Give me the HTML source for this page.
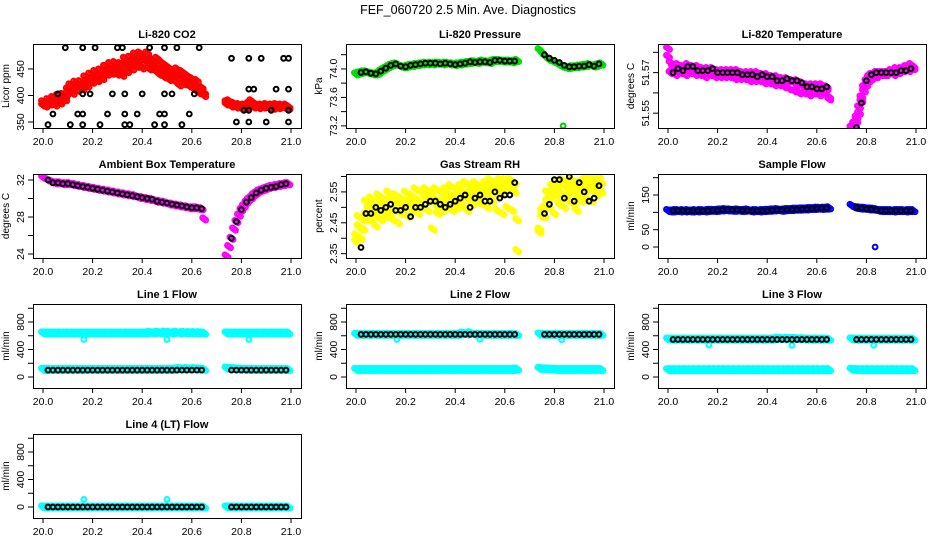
<!DOCTYPE html>
<html><head><meta charset="utf-8"><style>
html,body{margin:0;padding:0;background:#fff;}
svg{display:block;font-family:"Liberation Sans",sans-serif;}
</style></head><body>
<svg id="chart" width="936" height="540" viewBox="0 0 936 540">
<text x="468" y="14" text-anchor="middle" font-size="12.5">FEF_060720  2.5 Min. Ave. Diagnostics</text>
</svg>
<script>
// ---- time grids ----
const denseT = [20.00,20.01,20.02,20.03,20.04,20.05,20.06,20.07,20.08,20.09,20.10,20.11,20.12,20.13,20.14,20.15,20.16,20.17,20.18,20.19,20.20,20.21,20.22,20.23,20.24,20.25,20.26,20.27,20.28,20.29,20.30,20.31,20.32,20.33,20.34,20.35,20.36,20.37,20.38,20.39,20.40,20.41,20.42,20.43,20.44,20.45,20.46,20.47,20.48,20.49,20.50,20.51,20.52,20.53,20.54,20.55,20.56,20.57,20.58,20.59,20.60,20.61,20.62,20.63,20.64,20.65,
20.74,20.75,20.76,20.77,20.78,20.79,20.80,20.81,20.82,20.83,20.84,20.85,20.86,20.87,20.88,20.89,20.90,20.91,20.92,20.93,20.94,20.95,20.96,20.97,20.98,20.99];
const blackT = [20.02,20.04,20.06,20.08,20.10,20.12,20.14,20.16,20.18,20.20,20.22,20.24,20.26,20.28,20.30,20.32,20.34,20.36,20.38,20.40,20.42,20.44,20.46,20.48,20.50,20.52,20.54,20.56,20.58,20.60,20.62,20.64,
20.76,20.78,20.80,20.82,20.84,20.86,20.88,20.90,20.92,20.94,20.96,20.98];
const xTicks = [20.0,20.2,20.4,20.6,20.8,21.0];
const xTickLabels = ["20.0","20.2","20.4","20.6","20.8","21.0"];

// ---- CO2 ----
const co2Red = [382,385,386,388,390,388,392,390,392,398,405,410,412,418,420,415,420,425,428,430,432,435,430,440,438,445,448,450,442,452,455,450,445,460,455,462,458,465,460,470,462,468,465,470,460,455,460,450,445,448,440,445,438,440,435,442,445,430,432,428,425,425,420,415,410,405,
388,386,384,382,381,380,380,379,380,382,385,381,380,380,380,380,381,380,380,381,380,380,380,379,379,379];
const co2RedB = [388,380,392,384,396,382,400,386,402,392,412,420,404,425,410,426,412,435,418,440,425,445,428,448,432,455,440,460,448,462,440,460,438,470,445,472,450,478,455,480,452,475,480,450,468,448,470,440,462,435,455,430,448,428,450,420,440,422,438,418,432,412,428,405,415,400,
384,390,380,385,378,383,376,382,377,385,390,378,383,377,382,378,383,377,382,376,383,377,382,378,382,376];
const co2BlackT = [20.09,20.16,20.21,20.30,20.32,20.43,20.49,20.54,20.63,20.76,20.83,20.88,20.97,20.99,20.06,20.16,20.19,20.28,20.33,20.40,20.49,20.52,20.61,20.83,20.85,20.94,20.99,20.04,20.14,20.16,20.26,20.33,20.38,20.47,20.49,20.59,20.81,20.83,20.92,20.99,20.02,20.11,20.16,20.23,20.33,20.35,20.45,20.49,20.56,20.78,20.83,20.90,20.99];
const co2BlackY = [490,490,490,490,490,490,490,490,490,470,470,470,470,470,403,403,403,403,403,403,403,403,403,412,412,412,412,365,365,365,365,365,365,365,365,365,372,372,372,372,345,345,345,345,345,345,345,345,345,350,350,350,350];
const co2YTicks = [350,400,450];
const co2YLabels = ["350","400","450"];

// ---- Pressure ----
const presGreen = [73.93,73.94,73.95,73.96,73.96,73.95,73.94,73.93,73.93,73.94,73.97,73.99,74.01,74.03,74.05,74.06,74.07,74.06,74.04,74.03,74.03,74.04,74.05,74.05,74.06,74.06,74.07,74.07,74.08,74.07,74.08,74.07,74.08,74.08,74.08,74.07,74.08,74.08,74.07,74.07,74.06,74.07,74.07,74.08,74.08,74.09,74.09,74.10,74.10,74.09,74.10,74.11,74.10,74.10,74.09,74.11,74.12,74.12,74.12,74.11,74.11,74.11,74.11,74.10,74.11,74.12,
74.27,74.23,74.19,74.16,74.13,74.12,74.10,74.08,74.06,74.04,74.03,74.02,74.02,74.03,74.03,74.03,74.04,74.04,74.05,74.05,74.06,74.05,74.04,74.05,74.06,74.07];
const presOutT = [20.835];
const presOutY = [73.20];
const presBlack = [73.95,73.96,73.94,73.93,73.97,74.01,74.05,74.07,74.04,74.03,74.05,74.06,74.07,74.08,74.08,74.08,74.07,74.08,74.07,74.06,74.07,74.08,74.10,74.09,74.10,74.10,74.09,74.12,74.12,74.11,74.11,74.11,
74.20,74.15,74.12,74.09,74.05,74.03,74.03,74.04,74.04,74.06,74.04,74.07];
const presYTicks = [73.2,73.4,73.6,73.8,74.0,74.2];
const presYLabels = ["73.2","","73.6","","74.0",""];

// ---- Li-820 temperature ----
const ltMag = [51.578,51.575,51.571,51.571,51.572,51.572,51.571,51.572,51.572,51.572,51.572,51.571,51.571,51.571,51.570,51.571,51.571,51.570,51.570,51.571,51.570,51.570,51.570,51.570,51.570,51.570,51.570,51.569,51.570,51.569,51.569,51.569,51.569,51.569,51.568,51.569,51.569,51.568,51.569,51.568,51.568,51.568,51.568,51.567,51.567,51.566,51.567,51.566,51.566,51.566,51.566,51.565,51.564,51.565,51.564,51.563,51.562,51.563,51.563,51.562,51.562,51.562,51.561,51.562,51.562,51.557,
51.543,51.544,51.546,51.550,51.556,51.561,51.566,51.568,51.569,51.569,51.570,51.570,51.570,51.570,51.570,51.570,51.571,51.570,51.571,51.571,51.571,51.571,51.572,51.572,51.572,51.573];
const ltMagB = [51.582,51.570,51.573,51.569,51.574,51.570,51.573,51.569,51.574,51.570,51.573,51.569,51.573,51.569,51.572,51.568,51.572,51.569,51.572,51.568,51.571,51.568,51.571,51.568,51.571,51.568,51.571,51.567,51.571,51.567,51.570,51.567,51.570,51.566,51.570,51.566,51.570,51.566,51.569,51.565,51.569,51.565,51.568,51.564,51.568,51.564,51.567,51.563,51.567,51.562,51.566,51.561,51.566,51.560,51.565,51.560,51.564,51.559,51.564,51.560,51.564,51.559,51.564,51.560,51.563,51.558,
51.543,51.545,51.548,51.553,51.558,51.563,51.564,51.566,51.567,51.568,51.568,51.569,51.569,51.569,51.569,51.570,51.570,51.569,51.572,51.570,51.572,51.571,51.573,51.571,51.574,51.572];
const ltBlack = [51.570,51.572,51.571,51.573,51.573,51.571,51.571,51.571,51.572,51.570,51.570,51.570,51.570,51.570,51.569,51.569,51.569,51.568,51.569,51.568,51.568,51.566,51.566,51.567,51.566,51.566,51.565,51.563,51.563,51.562,51.562,51.563,
51.543,51.555,51.566,51.569,51.570,51.570,51.570,51.570,51.570,51.571,51.571,51.572];
const ltYTicks = [51.55,51.56,51.57,51.58];
const ltYLabels = ["51.55","","51.57",""];

// ---- Ambient box temperature ----
const btMag = [32.3,32.2,32.0,31.9,31.8,31.7,31.7,31.7,31.6,31.6,31.6,31.6,31.5,31.5,31.4,31.4,31.3,31.3,31.2,31.2,31.1,31.1,31.0,31.0,30.9,30.9,30.8,30.8,30.7,30.7,30.6,30.6,30.5,30.5,30.4,30.4,30.3,30.3,30.2,30.1,30.1,30.0,30.0,29.9,29.9,29.8,29.7,29.7,29.6,29.6,29.5,29.4,29.4,29.3,29.3,29.2,29.2,29.1,29.1,29.0,29.0,29.0,29.0,28.9,28.9,27.8,
23.8,24.8,25.7,26.7,27.5,28.2,28.8,29.2,29.6,29.9,30.1,30.4,30.6,30.8,30.9,31.0,31.1,31.2,31.3,31.3,31.4,31.4,31.5,31.5,31.6,31.6];
const btBlack = [32.0,31.7,31.7,31.6,31.6,31.5,31.4,31.3,31.2,31.1,31.0,30.9,30.8,30.7,30.6,30.5,30.4,30.3,30.2,30.1,30.0,29.9,29.7,29.6,29.5,29.4,29.3,29.2,29.1,29.0,29.0,28.9,
25.7,27.5,28.8,29.6,30.1,30.6,30.9,31.1,31.2,31.3,31.5,31.6];
const btYTicks = [24,26,28,30,32];
const btYLabels = ["24","","28","","32"];

// ---- Gas stream RH ----
const rhYel = [2.41,2.44,2.43,2.46,2.48,2.50,2.49,2.51,2.48,2.50,2.52,2.50,2.51,2.49,2.53,2.52,2.50,2.51,2.48,2.50,2.51,2.52,2.50,2.51,2.53,2.52,2.51,2.50,2.53,2.52,2.54,2.52,2.53,2.50,2.52,2.51,2.53,2.52,2.54,2.53,2.52,2.54,2.53,2.55,2.54,2.53,2.55,2.54,2.56,2.53,2.55,2.54,2.56,2.55,2.53,2.56,2.57,2.54,2.56,2.55,2.57,2.58,2.56,2.57,2.55,2.36,
2.43,2.47,2.50,2.52,2.53,2.55,2.54,2.56,2.55,2.53,2.57,2.54,2.56,2.55,2.57,2.54,2.56,2.58,2.55,2.57,2.56,2.58,2.55,2.57,2.56,2.58];
const rhYelB = [2.39,2.47,2.40,2.43,2.52,2.46,2.53,2.47,2.44,2.54,2.46,2.53,2.47,2.55,2.48,2.46,2.54,2.45,2.53,2.48,2.55,2.47,2.54,2.49,2.56,2.48,2.55,2.50,2.56,2.49,2.55,2.43,2.56,2.48,2.55,2.49,2.56,2.50,2.57,2.49,2.56,2.50,2.57,2.51,2.58,2.49,2.57,2.51,2.58,2.52,2.57,2.51,2.58,2.50,2.59,2.52,2.58,2.49,2.59,2.48,2.59,2.50,2.59,2.49,2.58,2.46,
2.42,2.49,2.47,2.55,2.50,2.57,2.48,2.58,2.51,2.59,2.50,2.58,2.52,2.59,2.51,2.49,2.58,2.52,2.59,2.53,2.60,2.52,2.59,2.54,2.60,2.55];
const rhBlack = [2.37,2.48,2.48,2.50,2.49,2.50,2.51,2.49,2.49,2.50,2.47,2.50,2.50,2.51,2.52,2.52,2.51,2.50,2.51,2.52,2.53,2.54,2.50,2.53,2.54,2.52,2.52,2.55,2.53,2.54,2.54,2.58,
2.48,2.51,2.59,2.59,2.53,2.60,2.52,2.58,2.55,2.52,2.53,2.57];
const rhYTicks = [2.35,2.40,2.45,2.50,2.55,2.60];
const rhYLabels = ["2.35","","2.45","","2.55",""];

// ---- Sample flow ----
const sfBlue = [105,104,104,105,105,104,105,104,105,104,104,105,104,105,105,104,105,106,106,105,106,107,107,108,107,107,106,106,107,106,105,106,107,105,104,105,105,104,105,105,106,106,107,107,108,107,106,107,108,108,108,109,109,109,110,110,110,111,111,111,112,112,111,112,112,113,
120,116,114,113,112,112,111,110,110,109,108,106,105,105,105,105,105,104,105,105,105,105,104,105,105,105];
const sfOutT = [20.835];
const sfOutY = [0];
const sfBlack = [105,105,105,104,105,105,104,105,106,106,107,108,107,107,106,105,105,105,105,105,106,107,107,107,108,108,109,110,111,111,112,112,
114,112,110,109,107,105,105,105,105,105,105,105];
const sfYTicks = [0,50,100,150,200];
const sfYLabels = ["0","50","","150",""];

// ---- Line flows ----
const flowYTicks = [0,200,400,600,800,1000];
const flowYLabels = ["0","","400","","800",""];
const l1Hi = [640,642,638,640,641,639,640,642,638,640,641,639,640,642,638,640,641,639,640,642,638,640,641,639,640,642,638,640,641,639,640,642,638,640,641,639,640,642,638,640,641,639,640,650,645,640,652,648,640,655,645,650,640,648,652,640,645,650,640,646,642,648,640,645,642,640,
640,642,638,640,641,639,640,642,638,640,641,639,640,642,638,640,641,639,640,642,638,640,641,639,640,642];
const l1Lo = [110,110,110,110,110,110,110,110,110,110,110,110,110,110,110,110,110,110,110,110,110,110,110,110,110,110,110,110,110,110,110,110,110,110,110,110,110,110,110,110,110,110,110,110,110,110,110,110,110,110,110,110,110,115,120,125,120,115,125,120,118,122,120,115,118,112,
130,128,125,122,120,118,116,114,112,110,110,110,110,110,110,110,110,110,110,110,110,110,110,110,110,110];
const l1Black = [100,100,100,100,100,100,100,100,100,100,100,100,100,100,100,100,100,100,100,100,100,100,100,100,100,100,100,100,100,100,100,100,
100,100,100,100,100,100,100,100,100,100,100,100];
const flowOutT = [20.165,20.50,20.83];
const l1OutY = [545,545,545];

const l2Hi = [620,622,618,620,621,619,620,622,618,620,621,619,620,622,618,620,621,619,620,622,618,620,621,619,620,622,618,620,621,619,620,622,618,620,621,619,620,622,618,620,621,619,625,640,632,625,645,630,620,625,620,622,618,620,621,619,620,622,618,620,621,619,620,622,618,620,
625,622,618,620,621,619,620,622,618,620,621,619,620,622,618,620,621,619,620,622,618,620,621,619,620,622];
const l2Lo = [110,108,110,108,110,108,110,108,110,108,110,108,110,108,110,108,110,108,110,108,110,108,110,108,110,108,110,108,110,108,110,108,110,108,110,108,110,108,110,108,110,108,110,108,110,108,110,108,110,108,110,108,110,108,110,108,110,108,110,108,110,108,110,108,112,115,
125,122,120,118,116,114,112,110,108,110,108,110,108,110,108,110,108,110,108,110,108,110,108,110,108,110];
const l2Black = [620,620,620,620,620,620,620,620,620,620,620,620,620,620,620,620,620,620,620,620,620,620,620,620,620,620,620,620,620,620,620,620,
620,620,620,620,620,620,620,620,620,620,620,620];
const l2OutY = [545,550,540];

const l3Hi = [550,552,548,550,551,549,550,552,548,550,551,549,550,552,548,550,551,549,550,552,548,550,551,549,550,552,548,550,551,549,550,552,548,550,551,549,550,552,548,550,551,549,550,555,565,560,562,555,565,560,558,562,560,555,558,552,550,552,548,550,551,549,550,552,548,550,
555,552,548,550,551,549,550,552,548,550,551,549,550,552,548,550,551,549,550,552,548,550,551,549,550,552];
const l3Lo = [105,108,105,108,105,108,105,108,105,108,105,108,105,108,105,108,105,108,105,108,105,108,105,108,105,108,105,108,105,108,105,108,105,108,105,108,105,108,105,108,105,108,105,108,105,108,105,108,105,108,105,108,105,108,105,108,105,108,105,108,105,108,105,108,105,108,
112,110,108,108,105,108,105,108,105,108,105,108,105,108,105,108,105,108,105,108,105,108,105,108,105,108];
const l3Black = [545,545,545,545,545,545,545,545,545,545,545,545,545,545,545,545,545,545,545,545,545,545,545,545,545,545,545,545,545,545,545,545,
545,545,545,545,545,545,545,545,545,545,545,545];
const l3OutY = [465,460,460];

const l4Cyan = [0,0,0,0,0,0,0,0,0,0,0,0,0,0,0,0,0,0,0,0,0,0,0,0,0,0,0,0,0,0,0,0,0,0,0,0,0,0,0,0,0,0,0,0,0,0,0,0,0,0,0,0,0,0,0,0,0,0,0,0,0,0,0,0,0,0,
0,0,0,0,0,0,0,0,0,0,0,0,0,0,0,0,0,0,0,0,0,0,0,0,0,0];
const l4Black = [0,0,0,0,0,0,0,0,0,0,0,0,0,0,0,0,0,0,0,0,0,0,0,0,0,0,0,0,0,0,0,0,
0,0,0,0,0,0,0,0,0,0,0,0];
const l4OutT = [20.165,20.50];
const l4OutY = [110,110];

// ---- layout ----
const NS = "http://www.w3.org/2000/svg";
const svg = document.getElementById('chart');
const colLeft = [33, 346, 658];
const boxW = 268, boxH = 84;
function mk(tag, attrs, parent) {
  const e = document.createElementNS(NS, tag);
  for (const k in attrs) e.setAttribute(k, attrs[k]);
  (parent || svg).appendChild(e);
  return e;
}

const panels = [
  {key:'co2', title:'Li-820 CO2', ylab:'Licor ppm', col:0,row:0, y0:338.7, y1:497, ticks:co2YTicks, labels:co2YLabels,
   layers:[{t:denseT,y:co2Red,c:'#ff0000',d:1},{t:denseT,y:co2RedB,c:'#ff0000',d:1},{t:co2BlackT,y:co2BlackY,c:'#000'}]},
  {key:'pressure', title:'Li-820 Pressure', ylab:'kPa', col:1,row:0, y0:73.17, y1:74.35, ticks:presYTicks, labels:presYLabels,
   layers:[{t:denseT,y:presGreen,c:'#00dd00',d:1},{t:presOutT,y:presOutY,c:'#00cc00'},{t:blackT,y:presBlack,c:'#000'}]},
  {key:'li-temp', title:'Li-820 Temperature', ylab:'degrees C', col:2,row:0, y0:51.5427, y1:51.5841, ticks:ltYTicks, labels:ltYLabels,
   layers:[{t:denseT,y:ltMag,c:'#ff00ff',d:1},{t:denseT,y:ltMagB,c:'#ff00ff',d:1},{t:blackT,y:ltBlack,c:'#000'}]},
  {key:'box-temp', title:'Ambient Box Temperature', ylab:'degrees C', col:0,row:1, y0:23.57, y1:32.65, ticks:btYTicks, labels:btYLabels,
   layers:[{t:denseT,y:btMag,c:'#ff00ff',d:1},{t:blackT,y:btBlack,c:'#000'}]},
  {key:'rh', title:'Gas Stream RH', ylab:'percent', col:1,row:1, y0:2.336, y1:2.608, ticks:rhYTicks, labels:rhYLabels,
   layers:[{t:denseT,y:rhYel,c:'#ffff00',d:1},{t:denseT,y:rhYelB,c:'#ffff00',d:1},{t:blackT,y:rhBlack,c:'#000'}]},
  {key:'sample-flow', title:'Sample Flow', ylab:'ml/min', col:2,row:1, y0:-31.7, y1:210.6, ticks:sfYTicks, labels:sfYLabels,
   layers:[{t:denseT,y:sfBlue,c:'#0000ff',d:1},{t:sfOutT,y:sfOutY,c:'#0000ff'},{t:blackT,y:sfBlack,c:'#000'}]},
  {key:'line1', title:'Line 1 Flow', ylab:'ml/min', col:0,row:2, y0:-160, y1:1062, ticks:flowYTicks, labels:flowYLabels,
   layers:[{t:denseT,y:l1Hi,c:'#00ffff',d:1},{t:denseT,y:l1Lo,c:'#00ffff',d:1},{t:flowOutT,y:l1OutY,c:'#00ffff'},{t:blackT,y:l1Black,c:'#000'}]},
  {key:'line2', title:'Line 2 Flow', ylab:'ml/min', col:1,row:2, y0:-160, y1:1062, ticks:flowYTicks, labels:flowYLabels,
   layers:[{t:denseT,y:l2Hi,c:'#00ffff',d:1},{t:denseT,y:l2Lo,c:'#00ffff',d:1},{t:flowOutT,y:l2OutY,c:'#00ffff'},{t:blackT,y:l2Black,c:'#000'}]},
  {key:'line3', title:'Line 3 Flow', ylab:'ml/min', col:2,row:2, y0:-160, y1:1062, ticks:flowYTicks, labels:flowYLabels,
   layers:[{t:denseT,y:l3Hi,c:'#00ffff',d:1},{t:denseT,y:l3Lo,c:'#00ffff',d:1},{t:flowOutT,y:l3OutY,c:'#00ffff'},{t:blackT,y:l3Black,c:'#000'}]},
  {key:'line4', title:'Line 4 (LT) Flow', ylab:'ml/min', col:0,row:3, y0:-160, y1:1062, ticks:flowYTicks, labels:flowYLabels,
   layers:[{t:denseT,y:l4Cyan,c:'#00ffff',d:1},{t:l4OutT,y:l4OutY,c:'#00ffff'},{t:blackT,y:l4Black,c:'#000'}]}
];

// marker duplication offsets (rendering only) to mimic overplotted dense series
const denseOffsets = [[-1.6,-1.2],[1.6,1.2],[0,0]];

panels.forEach(p => {
  const L = colLeft[p.col], T = 44 + 130 * p.row, B = T + boxH, R = L + boxW;
  const xs = v => L + 10 + (v - 20) * 248;
  const ys = v => B - (v - p.y0) / (p.y1 - p.y0) * boxH;
  const g = mk('g', {});
  
  
  const title = mk('text', {x: L + boxW/2, y: T - 6, 'text-anchor':'middle', 'font-size':'11', 'font-weight':'bold'}, g);
  title.textContent = p.title;
  
  
  const clipId = 'clip-' + p.key;
  const cp = mk('clipPath', {id: clipId}, g);
  mk('rect', {x: L, y: T, width: boxW, height: boxH}, cp);
  const pts = mk('g', {'clip-path': 'url(#' + clipId + ')', fill:'none'}, g);
  
  
  p.layers.forEach(ly => {
    const offs = ly.d ? denseOffsets : [[0,0]];
    for (let i = 0; i < ly.y.length; i++) {
      offs.forEach(o => {
        const c = mk('circle', {cx: (xs(ly.t[i]) + o[0]).toFixed(1), cy: (ys(ly.y[i]) + o[1]).toFixed(1), r: 2.4, stroke: ly.c, 'stroke-width': ly.d ? 1.9 : 2}, pts);
        
        
      });
    }
  });
  const box = mk('rect', {x: L + .5, y: T + .5, width: boxW, height: boxH, fill:'none', stroke:'#000', 'stroke-width':'1'}, g);
  
  
  const xa = mk('g', {}, g);
  
  
  xTicks.forEach((v, i) => {
    const x = xs(v);
    mk('line', {x1: x, x2: x, y1: B, y2: B + 5, stroke:'#000'}, xa);
    const t = mk('text', {x: x, y: B + 17, 'text-anchor':'middle', 'font-size':'10.5'}, xa);
    t.textContent = xTickLabels[i];
  });
  const ya = mk('g', {}, g);
  
  
  p.ticks.forEach((v, i) => {
    const y = ys(v);
    mk('line', {x1: L - 5, x2: L, y1: y, y2: y, stroke:'#000'}, ya);
    if (p.labels[i]) {
      const t = mk('text', {x: L - 9, y: y, 'text-anchor':'middle', 'font-size':'10.5', transform:'rotate(-90 ' + (L - 9) + ' ' + y + ')'}, ya);
      t.textContent = p.labels[i];
    }
  });
  const yl = mk('text', {x: L - 24, y: T + boxH/2, 'text-anchor':'middle', 'font-size':'10', transform:'rotate(-90 ' + (L - 24) + ' ' + (T + boxH/2) + ')'}, g);
  yl.textContent = p.ylab;
  
  
});
</script>
</body></html>
